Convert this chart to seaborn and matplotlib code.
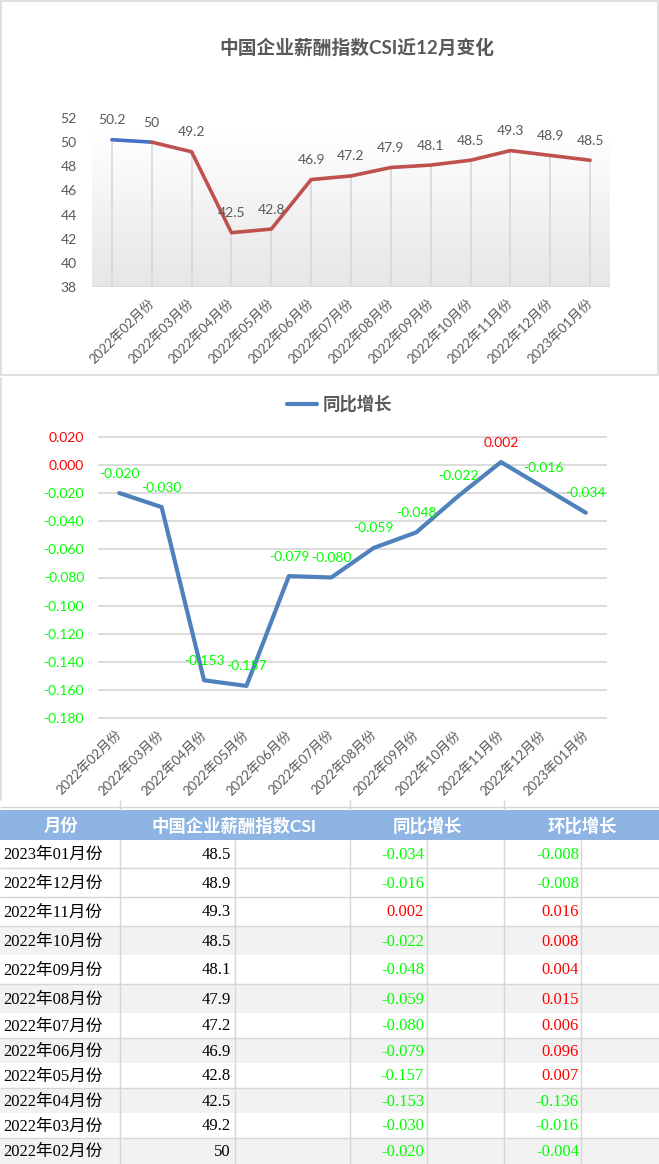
import numpy as np
import pandas as pd
import matplotlib
matplotlib.use('Agg')
import matplotlib.pyplot as plt
import seaborn as sns
from matplotlib.patches import Rectangle
from matplotlib.lines import Line2D
from matplotlib.colors import LinearSegmentedColormap

sns.set_theme(style='white')
plt.rcParams['font.family'] = ['Lato', 'Noto Sans CJK SC', 'DejaVu Sans']

# ---------------- data ----------------
months = ['2022年02月份', '2022年03月份', '2022年04月份', '2022年05月份',
          '2022年06月份', '2022年07月份', '2022年08月份', '2022年09月份',
          '2022年10月份', '2022年11月份', '2022年12月份', '2023年01月份']
csi = [50, 49.2, 42.5, 42.8, 46.9, 47.2, 47.9, 48.1, 48.5, 49.3, 48.9, 48.5]
prev_csi = 50.2  # value before 2022年02月份 (blue segment)
yoy = [-0.020, -0.030, -0.153, -0.157, -0.079, -0.080, -0.059, -0.048,
       -0.022, 0.002, -0.016, -0.034]
mom = [-0.004, -0.016, -0.136, 0.007, 0.096, 0.006, 0.015, 0.004,
       0.008, 0.016, -0.008, -0.008]
top_yticks = [38, 40, 42, 44, 46, 48, 50, 52]
bot_yticks = [0.02, 0.0, -0.02, -0.04, -0.06, -0.08, -0.10, -0.12, -0.14, -0.16, -0.18]
title1 = '中国企业薪酬指数CSI近12月变化'
legend2 = '同比增长'
headers = ['月份', '中国企业薪酬指数CSI', '同比增长', '环比增长']

GRAY = '#595959'
RED = '#FF0000'
GREEN = '#00FF00'

W, H = 659, 1164
fig = plt.figure(figsize=(W / 100, H / 100), dpi=100)
fig.patch.set_facecolor('white')


def ax_rect(x0, y0, x1, y1):
    return [x0 / W, 1 - y1 / H, (x1 - x0) / W, (y1 - y0) / H]


# ---------------- top chart ----------------
ax1 = fig.add_axes(ax_rect(92, 118, 610, 287))
vals1 = [prev_csi] + csi
df1 = pd.DataFrame({'x': np.arange(len(vals1)), 'v': vals1})

cmap = LinearSegmentedColormap.from_list('g', ['#E6E6E6', '#FFFFFF'])
grad = np.linspace(0, 1, 256).reshape(-1, 1)
ax1.imshow(grad, extent=[-0.5, 12.5, 38, 50.8], aspect='auto', cmap=cmap,
           origin='lower', zorder=0)
ax1.vlines(df1['x'], 38, df1['v'], color='#D9D9D9', lw=1.3, zorder=1)
ax1.axhline(38, color='#D9D9D9', lw=1.3, zorder=1)
sns.lineplot(data=df1.iloc[:2], x='x', y='v', color='#4472C4', lw=2.6, ax=ax1, zorder=3)
sns.lineplot(data=df1.iloc[1:], x='x', y='v', color='#C0504D', lw=2.6, ax=ax1, zorder=3)
for i, v in enumerate(vals1):
    ax1.annotate(f'{v:g}', (i, v), xytext=(0, 14), textcoords='offset points',
                 ha='center', va='center', fontsize=10, color=GRAY, zorder=4)
ax1.set_xlim(-0.5, 12.5)
ax1.set_ylim(38, 52)
ax1.set_yticks(top_yticks)
ax1.set_yticklabels([str(t) for t in top_yticks], fontsize=10, color=GRAY)
ax1.set_xticks(range(1, 13))
ax1.set_xticklabels(months, rotation=45, ha='right', va='center',
                    rotation_mode='anchor', fontsize=9.5, color=GRAY)
ax1.tick_params(axis='x', length=0, pad=10)
ax1.tick_params(axis='y', length=0, pad=11)
ax1.set_xlabel('')
ax1.set_ylabel('')
for s in ax1.spines.values():
    s.set_visible(False)
ax1.set_facecolor('none')

fig.text(357 / W, 1 - 47 / H, title1, ha='center', va='center', fontsize=13.5,
         fontweight='bold', color=GRAY)
fig.add_artist(Rectangle((1 / W, 1 - 375 / H), 657 / W, 374 / H,
                         transform=fig.transFigure, fill=False, ec='#D9D9D9', lw=1.2))

# ---------------- bottom chart ----------------
ax2 = fig.add_axes(ax_rect(98, 436.7, 607, 718.3))
df2 = pd.DataFrame({'x': np.arange(len(yoy)), 'v': yoy})
ax2.hlines(bot_yticks, -0.5, 11.5, color='#D9D9D9', lw=1.3, zorder=1, clip_on=False)
sns.lineplot(data=df2, x='x', y='v', color='#4F81BD', lw=3, ax=ax2, zorder=3,
             label=legend2)
for i, v in enumerate(yoy):
    ax2.annotate(f'{v:.3f}', (i, v), xytext=(0, 14), textcoords='offset points',
                 ha='center', va='center', fontsize=10,
                 color=RED if v >= 0 else GREEN, zorder=4)
ax2.set_xlim(-0.5, 11.5)
ax2.set_ylim(-0.18, 0.02)
ax2.set_yticks(bot_yticks)
ax2.set_yticklabels([f'{t:.3f}' if abs(t) > 1e-9 else '0.000' for t in bot_yticks], fontsize=10)
for lab, t in zip(ax2.get_yticklabels(), bot_yticks):
    lab.set_color(RED if t >= -1e-9 else GREEN)
ax2.set_xticks(range(12))
ax2.set_xticklabels(months, rotation=45, ha='right', va='center',
                    rotation_mode='anchor', fontsize=9.5, color=GRAY)
ax2.tick_params(axis='x', length=0, pad=10)
ax2.tick_params(axis='y', length=0, pad=10)
ax2.set_xlabel('')
ax2.set_ylabel('')
for s in ax2.spines.values():
    s.set_visible(False)
ax2.legend(loc='center', bbox_to_anchor=(340 / W, 1 - 404 / H),
           bbox_transform=fig.transFigure, frameon=False,
           prop=dict(size=12.5, weight='bold'), handlelength=1.7,
           handletextpad=0.35, labelcolor=GRAY)
fig.add_artist(Line2D([1 / W, 1 / W], [1 - 800 / H, 1 - 378 / H],
                      transform=fig.transFigure, color='#D9D9D9', lw=1.2))

# ---------------- table ----------------
ax3 = fig.add_axes(ax_rect(0, 800, 659, 1164))
ax3.set_xlim(0, 659)
ax3.set_ylim(1164, 800)
ax3.axis('off')

bounds = [840, 868, 897, 926, 955, 984, 1013, 1038, 1063, 1088, 1113, 1138, 1164]
vcols = [120, 235, 350, 427, 504, 581]
LINE = '#D6D6D6'

ax3.hlines(807, 0, 659, color=LINE, lw=1)
ax3.vlines([120, 350, 504], 800, 810, color=LINE, lw=1)
ax3.add_patch(Rectangle((0, 810), 659, 30, color='#8DB4E2', lw=0))
header_x = [61, 234, 427, 582]
for hx, ht in zip(header_x, headers):
    ax3.text(hx, 826, ht, ha='center', va='center', fontsize=12.5,
             fontweight='bold', color='white')

rows_m = months[::-1]
rows_c = csi[::-1]
rows_y = yoy[::-1]
rows_mo = mom[::-1]
serif = ['Liberation Serif', 'Noto Sans CJK SC']
for i in range(12):
    top, bot = bounds[i], bounds[i + 1]
    if i >= 3 and (i - 3) % 2 == 0:
        ax3.add_patch(Rectangle((0, top), 659, bot - top, color='#F2F2F2', lw=0, zorder=0))
    else:
        ax3.hlines(bot, 0, 659, color=LINE, lw=1, zorder=1)
    cy = (top + bot) / 2 + 1
    ax3.text(3, cy, rows_m[i], ha='left', va='center', fontsize=12,
             family=serif, color='black')
    ax3.text(231, cy, f'{rows_c[i]:g}', ha='right', va='center', fontsize=12,
             family=serif, color='black')
    ax3.text(424, cy, f'{rows_y[i]:.3f}', ha='right', va='center', fontsize=12,
             family=serif, color=RED if rows_y[i] >= 0 else GREEN)
    ax3.text(579, cy, f'{rows_mo[i]:.3f}', ha='right', va='center', fontsize=12,
             family=serif, color=RED if rows_mo[i] >= 0 else GREEN)
ax3.vlines(vcols, 840, 1164, color=LINE, lw=1, zorder=1)

fig.savefig('out.png', dpi=100)
